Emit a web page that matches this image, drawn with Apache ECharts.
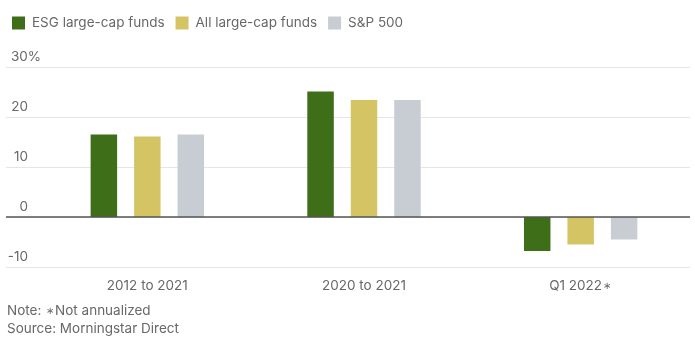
<!DOCTYPE html>
<html>
<head>
<meta charset="utf-8">
<script src="https://cdn.jsdelivr.net/npm/echarts@6/dist/echarts.min.js"></script>
<style>
html,body{margin:0;padding:0;background:#fff;}
#chart{width:695px;height:348px;}
</style>
</head>
<body>
<div id="chart"></div>
<script>
const categories = ['2012 to 2021', '2020 to 2021', 'Q1 2022*'];
const seriesNames = ['ESG large-cap funds', 'All large-cap funds', 'S&P 500'];
const esgValues = [16.5, 25.1, -6.8];
const allValues = [16.1, 23.4, -5.5];
const spValues = [16.5, 23.4, -4.5];
const yTicks = [-10, 0, 10, 20, 30];
const colors = ['#3e6e17', '#d5c463', '#c8ccd3'];
const FONT = 'Inter';
const TXT = '#686868';

const chart = echarts.init(document.getElementById('chart'), null, {renderer: 'canvas'});
const yMin = yTicks[0], yMax = yTicks[yTicks.length - 1], yStep = yTicks[1] - yTicks[0];

const starRich = {
  t: {fontFamily: FONT, fontSize: 13.5, color: TXT},
  s: {fontFamily: FONT, fontSize: 10, color: TXT, padding: [0, 1, 0, 1]}
};
const withStar = v => v.split('*').map(p => p ? '{t|' + p + '}' : '').join('{s|\u2217}');

const option = {
  animation: false,
  textStyle: {fontFamily: FONT},
  legend: {
    left: 7, top: 11,
    itemWidth: 13, itemHeight: 13, itemGap: 11,
    icon: 'rect',
    textStyle: {fontFamily: FONT, fontSize: 13.5, color: TXT, padding: [0, 0, 0, 2]},
    data: seriesNames
  },
  grid: [
    {left: 6, right: 5, top: 67, bottom: 81},
    {left: 39, right: 6, top: 67, bottom: 81}
  ],
  xAxis: [
    {gridIndex: 0, type: 'category', data: categories, show: false},
    {
      gridIndex: 1, type: 'category', data: categories,
      axisLine: {show: false}, axisTick: {show: false},
      axisLabel: {fontFamily: FONT, fontSize: 13.5, color: TXT, margin: 12,
        formatter: withStar, rich: starRich}
    }
  ],
  yAxis: [
    {
      gridIndex: 0, type: 'value', min: yMin, max: yMax, interval: yStep,
      axisLine: {show: false}, axisTick: {show: false},
      splitLine: {show: true, lineStyle: {color: '#e6e6e6', width: 1}},
      axisLabel: {
        inside: true, margin: 1, verticalAlign: 'bottom', align: 'left',
        padding: [0, 0, 3, 0],
        formatter: v => v === yMax ? '{q|' + v + '%}' : '{n|' + v + '}',
        rich: {
          n: {fontFamily: FONT, fontSize: 13.5, color: TXT, width: 21, align: 'right'},
          q: {fontFamily: FONT, fontSize: 13.5, color: TXT, padding: [0, 0, 0, 4]}
        }
      }
    },
    {
      gridIndex: 1, type: 'value', min: yMin, max: yMax, interval: yStep,
      show: false, splitLine: {show: false}
    }
  ],
  series: [
    {name: seriesNames[0], data: esgValues},
    {name: seriesNames[1], data: allValues},
    {name: seriesNames[2], data: spValues}
  ].map((s, i) => ({
    type: 'bar', name: s.name, data: s.data,
    xAxisIndex: 1, yAxisIndex: 1,
    barWidth: 26.5, barGap: '64%',
    itemStyle: {color: colors[i]}
  })).concat([{
    type: 'line', xAxisIndex: 0, yAxisIndex: 0, data: [],
    markLine: {
      silent: true, symbol: 'none', label: {show: false},
      lineStyle: {color: '#555', width: 1.5, type: 'solid'},
      data: [{yAxis: 0}]
    }
  }]),
  graphic: [
    {type: 'text', left: 7, top: 304,
      style: {text: withStar('Note: *Not annualized'), rich: starRich, font: '13.5px ' + FONT, fill: TXT}},
    {type: 'text', left: 7, top: 322,
      style: {text: 'Source: Morningstar Direct', font: '13.5px ' + FONT, fill: TXT}}
  ]
};
chart.setOption(option);
</script>
</body>
</html>
